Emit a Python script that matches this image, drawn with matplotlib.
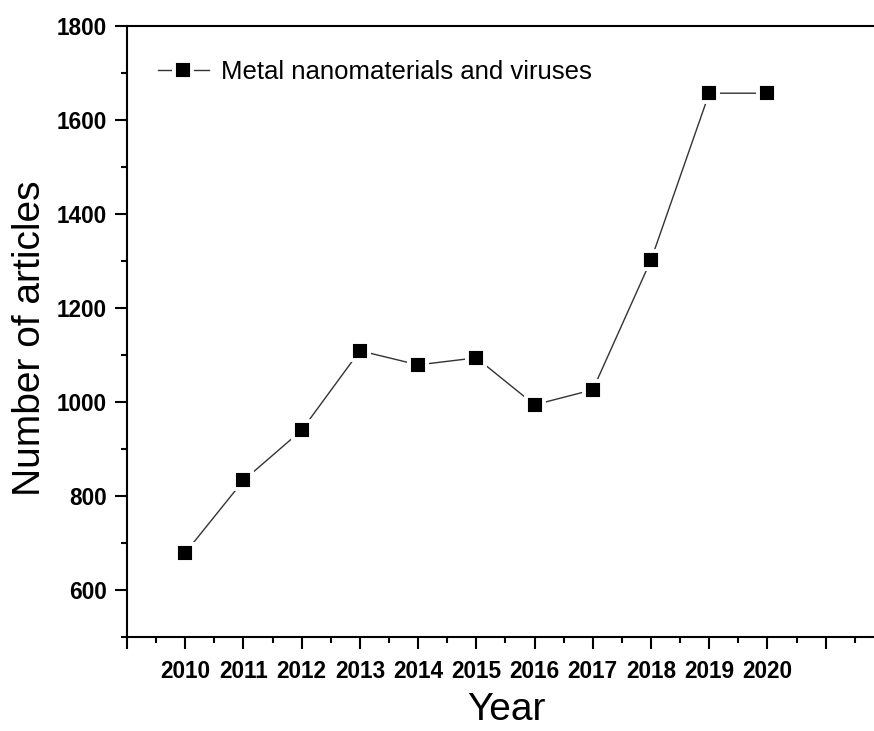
import matplotlib
matplotlib.use("Agg")
import matplotlib.pyplot as plt
from matplotlib.ticker import MultipleLocator

years = [2010, 2011, 2012, 2013, 2014, 2015, 2016, 2017, 2018, 2019, 2020]
articles = [679, 833, 940, 1109, 1079, 1094, 994, 1026, 1302, 1657, 1657]
series_label = "Metal nanomaterials and viruses"
x_label = "Year"
y_label = "Number of articles"

plt.rcParams['font.family'] = ['Liberation Sans', 'DejaVu Sans']

W, H = 874, 731
fig = plt.figure(figsize=(W / 100, H / 100), dpi=100)
ax = fig.add_axes([127 / W, 1 - 637 / H, (W - 127) / W, (637 - 26) / H])

ax.plot(years, articles, color='#333333', lw=1.0, marker='s',
        markersize=12.5, markerfacecolor='black', markeredgecolor='white',
        markeredgewidth=2.8, label=series_label, zorder=3)

ax.set_xlim(2009, 2021.83)
ax.set_ylim(500, 1800)

ax.set_xticks(list(range(2009, 2022)))
ax.set_xticklabels([''] + [str(y) for y in years] + [''])
ax.xaxis.set_minor_locator(MultipleLocator(0.5))
ax.yaxis.set_major_locator(MultipleLocator(200))
ax.yaxis.set_minor_locator(MultipleLocator(100))

for lbl in ax.get_xticklabels() + ax.get_yticklabels():
    lbl.set_fontweight('bold')
ax.tick_params(axis='both', which='major', direction='out', length=8.5,
               width=1.5, labelsize=16.3, color='black')
ax.tick_params(axis='both', which='minor', direction='out', length=4,
               width=1.5, color='black')
ax.tick_params(axis='x', which='major', pad=8)
ax.tick_params(axis='y', which='major', pad=6)

for s in ['left', 'bottom', 'top']:
    ax.spines[s].set_linewidth(1.5)
ax.spines['right'].set_visible(False)

ax.set_xlabel(x_label, fontsize=28, va='center')
ax.xaxis.set_label_coords((506 - 127) / 747, (637 - 710) / 611)
ax.set_ylabel(y_label, fontsize=28, va='center')
ax.yaxis.set_label_coords((30 - 127) / 747, (637 - 338.5) / 611)

leg = ax.legend(loc='upper left', bbox_to_anchor=(0.01, 0.983), frameon=False,
                fontsize=18.5, handlelength=2.0, handletextpad=0.45)

fig.savefig("out.png", dpi=100)
